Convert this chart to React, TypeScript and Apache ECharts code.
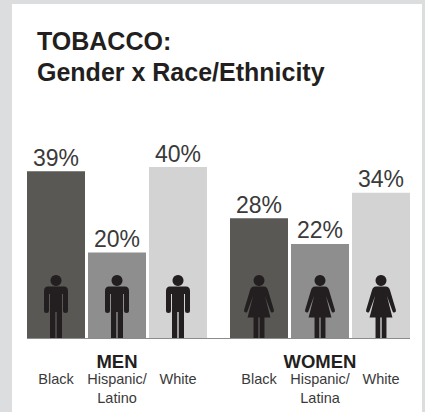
import React, { useEffect, useRef } from "react";
import * as echarts from "echarts";

const titleText = "TOBACCO:\nGender x Race/Ethnicity";
const menGroup = "MEN";
const womenGroup = "WOMEN";
const menCategories = ["Black", "Hispanic/\nLatino", "White"];
const womenCategories = ["Black", "Hispanic/\nLatina", "White"];
const menValues = [39, 20, 40];
const womenValues = [28, 22, 34];
const barColors = ["#595855", "#8f8e8e", "#d3d3d3"];

const manPath =
  "path://M12 0a5.5 5.5 0 1 0 .01 0ZM4 11.5H20Q24 11.5 24 16V35.5Q24 38 21.5 38Q19 38 19 35.5V19H18V63H12.7V37H11.3V63H6V19H5V35.5Q5 38 2.5 38Q0 38 0 35.5V16Q0 11.5 4 11.5Z";
const womanPath =
  "path://M15 0a5.5 5.5 0 1 0 .01 0ZM10 11.5H20Q23 11.5 24 15L30 35Q30.5 37 28.5 37.5Q27 38 26.5 36L21 21L26.5 42.5H20.5V63H15.7V42.5H14.3V63H9.5V42.5H3.5L9 21L3.5 36Q3 38 1.5 37.5Q-.5 37 0 35L6 15Q7 11.5 10 11.5Z";

const FONT = "'Liberation Sans', Arial, sans-serif";

export default function App() {
  const ref = useRef<HTMLDivElement>(null);
  useEffect(() => {
    if (!ref.current) return;
    const chart = echarts.init(ref.current, undefined, { renderer: "svg" });
    const xAxis = (idx: number, cats: string[], name: string) => ({
      type: "category" as const,
      gridIndex: idx,
      data: cats,
      axisLine: { show: false },
      axisTick: { show: false },
      name,
      nameLocation: "middle" as const,
      nameGap: 14,
      nameMoveOverlap: false,
      nameTextStyle: { fontFamily: FONT, fontWeight: "bold" as const, fontSize: 18.5, color: "#231f20" },
      axisLabel: { interval: 0, margin: 31, fontFamily: FONT, fontSize: 14.5, lineHeight: 19, color: "#3a3a3a", verticalAlign: "top" as const },
    });
    const yAxis = (idx: number) => ({ type: "value" as const, gridIndex: idx, min: 0, max: 40, show: false });
    const barSeries = (idx: number, values: number[]) => ({
      type: "bar" as const,
      xAxisIndex: idx,
      yAxisIndex: idx,
      barWidth: 58,
      data: values.map((v, i) => ({ value: v, itemStyle: { color: barColors[i] } })),
      label: {
        show: true,
        position: "top" as const,
        distance: 2,
        formatter: "{c}%",
        fontFamily: FONT,
        fontSize: 23,
        color: "#3a3a3a",
      },
    });
    const iconSeries = (idx: number, values: number[], path: string, w: number) => ({
      type: "pictorialBar" as const,
      xAxisIndex: idx,
      yAxisIndex: idx,
      symbol: path,
      symbolSize: [w, 63],
      symbolPosition: "start" as const,
      z: 5,
      itemStyle: { color: "#231f20" },
      data: values,
    });
    chart.setOption({
      animation: false,
      backgroundColor: "#dcdddf",
      title: {
        text: titleText,
        left: 32,
        top: 20,
        textStyle: { fontFamily: FONT, fontWeight: "bold", fontSize: 25, lineHeight: 31, color: "#231f20" },
      },
      graphic: [
        { type: "rect", z: -10, silent: true, shape: { x: 12, y: 4, width: 410, height: 408 }, style: { fill: "#ffffff" } },
        { type: "line", z: 10, silent: true, shape: { x1: 27, y1: 338.5, x2: 410, y2: 338.5 }, style: { stroke: "#8c8c8c", lineWidth: 1 } },
      ],
      grid: [
        { left: 25.5, width: 183, top: 167, height: 171, outerBoundsMode: "none" },
        { left: 228.5, width: 183, top: 167, height: 171, outerBoundsMode: "none" },
      ],
      xAxis: [xAxis(0, menCategories, menGroup), xAxis(1, womenCategories, womenGroup)],
      yAxis: [yAxis(0), yAxis(1)],
      series: [
        barSeries(0, menValues),
        barSeries(1, womenValues),
        iconSeries(0, menValues, manPath, 24),
        iconSeries(1, womenValues, womanPath, 30),
      ],
    });
    return () => chart.dispose();
  }, []);
  return <div ref={ref} style={{ position: "absolute", left: 0, top: 0, width: 425, height: 412 }} />;
}
